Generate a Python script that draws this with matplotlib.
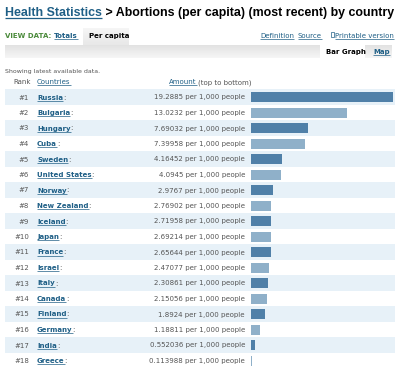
import numpy as np
import matplotlib.pyplot as plt
from matplotlib.patches import Rectangle

countries = ['Russia', 'Bulgaria', 'Hungary', 'Cuba', 'Sweden', 'United States',
             'Norway', 'New Zealand', 'Iceland', 'Japan', 'France', 'Israel',
             'Italy', 'Canada', 'Finland', 'Germany', 'India', 'Greece']
amounts = [19.2885, 13.0232, 7.69032, 7.39958, 4.16452, 4.0945,
           2.9767, 2.76902, 2.71958, 2.69214, 2.65644, 2.47077,
           2.30861, 2.15056, 1.8924, 1.18811, 0.552036, 0.113988]
amount_labels = ['19.2885', '13.0232', '7.69032', '7.39958', '4.16452', '4.0945',
                 '2.9767', '2.76902', '2.71958', '2.69214', '2.65644', '2.47077',
                 '2.30861', '2.15056', '1.8924', '1.18811', '0.552036', '0.113988']

link = '#1f5f86'
grey = '#555555'
dark_bar = '#5080a8'
light_bar = '#8fb0c9'
band = '#e7f1f8'

fig = plt.figure(figsize=(4, 3.67), dpi=100)
ax = fig.add_axes([0, 0, 1, 1])
ax.set_xlim(0, 400)
ax.set_ylim(367, 0)
ax.axis('off')
r = fig.canvas.get_renderer()
inv = ax.transData.inverted()

links = []

def txt(x, y, s, size=5, color=grey, weight='normal', ha='left', family='DejaVu Sans', underline=False):
    t = ax.text(x, y, s, fontsize=size, color=color, fontweight=weight, ha=ha, va='baseline', family=family)
    if underline:
        links.append(t)
    return t

def right_of(t):
    bb = t.get_window_extent(r)
    return inv.transform((bb.x1, bb.y0))[0]

def vgrad(x0, x1, top, bottom, c_top, c_bot):
    g = np.linspace(c_top, c_bot, 40)
    img = np.repeat(g[:, None, None], 3, axis=2) / 255.0
    ax.imshow(img, extent=(x0, x1, bottom, top), aspect='auto', zorder=0, interpolation='bilinear')

# title
t1 = txt(5, 16, 'Health Statistics', size=8.9, color=link, weight='bold', family='Liberation Sans', underline=True)
txt(right_of(t1), 16, ' > Abortions (per capita) (most recent) by country', size=8.9, color='black',
    weight='bold', family='Liberation Sans')

# view data row
vgrad(83, 129, 28, 45, 246, 232)
txt(5, 38, 'VIEW DATA:', size=5, color='#4a8a3a', weight='bold')
txt(54, 38, 'Totals', size=5, color=link, weight='bold', underline=True)
txt(89, 38, 'Per capita', size=5, color='black', weight='bold')
txt(260, 38, 'Definition', size=5, color=link, underline=True)
txt(298, 38, 'Source', size=5, color=link, underline=True)
ax.add_patch(Rectangle((331, 32), 3, 5, fill=False, ec=link, lw=0.5))
txt(335, 38, 'Printable version', size=5, color=link, underline=True)

# grey tab band with gradient
vgrad(5, 392, 45, 58, 226, 246)
ax.add_patch(Rectangle((320, 45), 45, 13, color='white', lw=0, zorder=1))
txt(326, 54, 'Bar Graph', size=5, color='black', weight='bold')
txt(373, 54, 'Map', size=5, color=link, weight='bold', underline=True)

txt(5, 73, 'Showing latest available data.', size=4.5)
txt(13, 84, 'Rank', size=5)
txt(37, 84, 'Countries', size=5, color=link, underline=True)
ta = txt(169, 84, 'Amount', size=5, color=link, underline=True)
txt(right_of(ta) + 2, 84, '(top to bottom)', size=5)

row_h = 15.5
y0 = 97
ys = [y0 + i * row_h for i in range(len(countries))]

for i, (c, lab, y) in enumerate(zip(countries, amount_labels, ys)):
    if i % 2 == 0:
        ax.add_patch(Rectangle((5, y - row_h / 2), 390, row_h, color=band, lw=0, zorder=0))
    txt(29, y + 2.5, '#%d' % (i + 1), ha='right')
    t = txt(37, y + 2.5, c, color=link, weight='bold', underline=True)
    txt(right_of(t), y + 2.5, ':', size=5)
    txt(245, y + 2.5, lab + ' per 1,000 people', ha='right')

# bars
bx = fig.add_axes([251 / 400, 0, 142 / 400, 1])
bx.set_xlim(0, max(amounts))
bx.set_ylim(367, 0)
bx.axis('off')
colors = [dark_bar if i % 2 == 0 else light_bar for i in range(len(amounts))]
bx.barh(ys, amounts, height=10, color=colors, edgecolor='none')

# underline links
for t in links:
    bb = t.get_window_extent(r)
    xa, xb = inv.transform([(bb.x0, 0), (bb.x1, 0)])[:, 0]
    base = t.get_position()[1]
    big = t.get_fontsize() > 8
    off = 2 if big else 1
    ax.plot([xa, xb], [base + off, base + off], color=t.get_color(), lw=0.9 if big else 0.5,
            solid_capstyle='butt')

ax.set_xlim(0, 400)
ax.set_ylim(367, 0)
fig.savefig('out.png', dpi=100)
